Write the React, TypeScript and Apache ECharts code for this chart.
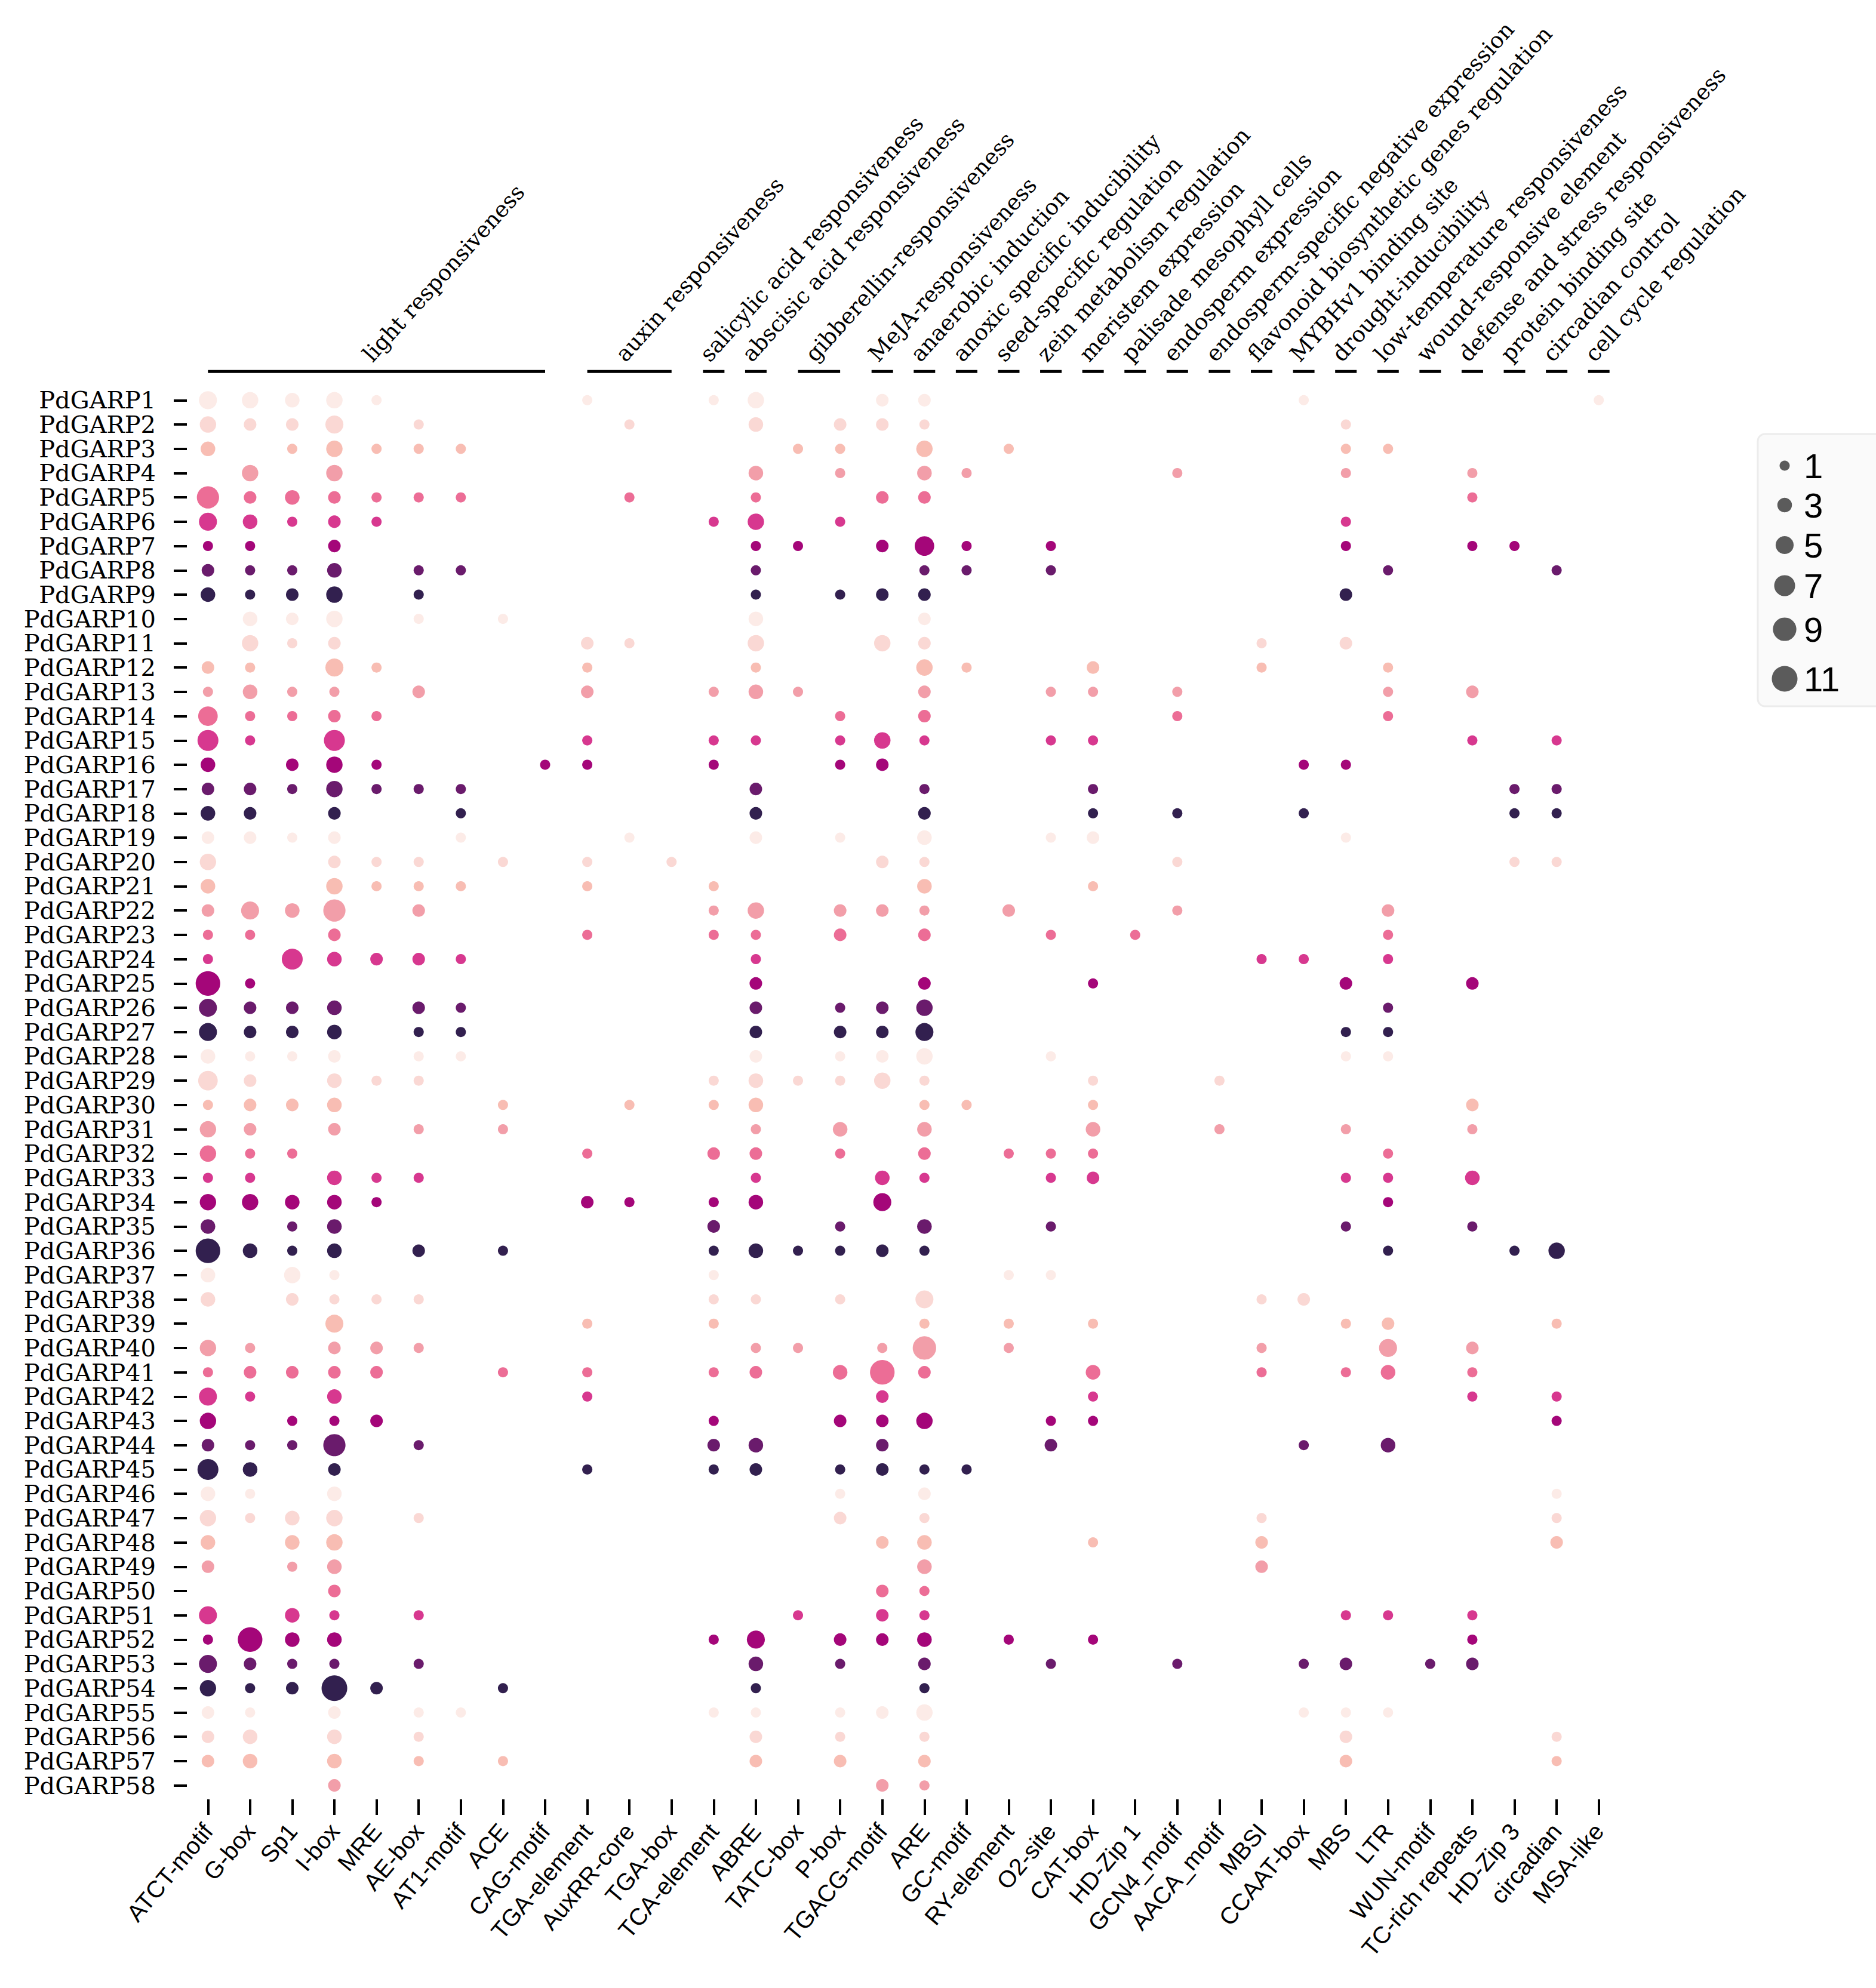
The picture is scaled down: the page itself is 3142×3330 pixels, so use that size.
import React, { useEffect, useRef } from "react";
import * as echarts from "echarts";

const genes = [
  "PdGARP1","PdGARP2","PdGARP3","PdGARP4","PdGARP5","PdGARP6","PdGARP7","PdGARP8","PdGARP9","PdGARP10",
  "PdGARP11","PdGARP12","PdGARP13","PdGARP14","PdGARP15","PdGARP16","PdGARP17","PdGARP18","PdGARP19","PdGARP20",
  "PdGARP21","PdGARP22","PdGARP23","PdGARP24","PdGARP25","PdGARP26","PdGARP27","PdGARP28","PdGARP29","PdGARP30",
  "PdGARP31","PdGARP32","PdGARP33","PdGARP34","PdGARP35","PdGARP36","PdGARP37","PdGARP38","PdGARP39","PdGARP40",
  "PdGARP41","PdGARP42","PdGARP43","PdGARP44","PdGARP45","PdGARP46","PdGARP47","PdGARP48","PdGARP49","PdGARP50",
  "PdGARP51","PdGARP52","PdGARP53","PdGARP54","PdGARP55","PdGARP56","PdGARP57","PdGARP58",
];

const motifs = [
  "ATCT-motif","G-box","Sp1","I-box","MRE","AE-box","AT1-motif","ACE","CAG-motif","TGA-element",
  "AuxRR-core","TGA-box","TCA-element","ABRE","TATC-box","P-box","TGACG-motif","ARE","GC-motif","RY-element",
  "O2-site","CAT-box","HD-Zip 1","GCN4_motif","AACA_motif","MBSI","CCAAT-box","MBS","LTR","WUN-motif",
  "TC-rich repeats","HD-Zip 3","circadian","MSA-like",
];

const groupLabels = [
  "light responsiveness","auxin responsiveness","salicylic acid responsiveness","abscisic acid responsiveness",
  "gibberellin-responsiveness","MeJA-responsiveness","anaerobic induction","anoxic specific inducibility",
  "seed-specific regulation","zein metabolism regulation","meristem expression","palisade mesophyll cells",
  "endosperm expression","endosperm-specific negative expression","flavonoid biosynthetic genes regulation",
  "MYBHv1 binding site","drought-inducibility","low-temperature responsiveness","wound-responsive element",
  "defense and stress responsiveness","protein binding site","circadian control","cell cycle regulation",
];
const groupStart = [0,9,12,13,14,16,17,18,19,20,21,22,23,24,25,26,27,28,29,30,31,32,33];
const groupEnd =   [8,11,12,13,15,16,17,18,19,20,21,22,23,24,25,26,27,28,29,30,31,32,33];

// counts per gene (rows) for each motif (columns, same order as motifs); 0 = absent
const rowCounts = [
  [5,4,3,4,1,0,0,0,0,1,0,0,1,4,0,0,2,2,0,0,0,0,0,0,0,0,1,0,0,0,0,0,0,1],
  [4,2,2,5,0,1,0,0,0,0,1,0,0,3,0,2,2,1,0,0,0,0,0,0,0,0,0,1,0,0,0,0,0,0],
  [3,0,1,4,1,1,1,0,0,0,0,0,0,0,1,1,0,4,0,1,0,0,0,0,0,0,0,1,1,0,0,0,0,0],
  [0,4,0,4,0,0,0,0,0,0,0,0,0,3,0,1,0,3,1,0,0,0,0,1,0,0,0,1,0,0,1,0,0,0],
  [8,2,3,2,1,1,1,0,0,0,1,0,0,1,0,0,2,2,0,0,0,0,0,0,0,0,0,0,0,0,1,0,0,0],
  [5,3,1,2,1,0,0,0,0,0,0,0,1,4,0,1,0,0,0,0,0,0,0,0,0,0,0,1,0,0,0,0,0,0],
  [1,1,0,2,0,0,0,0,0,0,0,0,0,1,1,0,2,6,1,0,1,0,0,0,0,0,0,1,0,0,1,1,0,0],
  [2,1,1,3,0,1,1,0,0,0,0,0,0,1,0,0,0,1,1,0,1,0,0,0,0,0,0,0,1,0,0,0,1,0],
  [3,1,2,4,0,1,0,0,0,0,0,0,0,1,0,1,2,2,0,0,0,0,0,0,0,0,0,2,0,0,0,0,0,0],
  [0,3,2,4,0,1,0,1,0,0,0,0,0,3,0,0,0,2,0,0,0,0,0,0,0,0,0,0,0,0,0,0,0,0],
  [0,4,1,2,0,0,0,0,0,2,1,0,0,4,0,0,4,2,0,0,0,0,0,0,0,1,0,2,0,0,0,0,0,0],
  [2,1,0,5,1,0,0,0,0,1,0,0,0,1,0,0,0,4,1,0,0,2,0,0,0,1,0,0,1,0,0,0,0,0],
  [1,3,1,1,0,2,0,0,0,2,0,0,1,3,1,0,0,2,0,0,1,1,0,1,0,0,0,0,1,0,2,0,0,0],
  [6,1,1,2,1,0,0,0,0,0,0,0,0,0,0,1,0,2,0,0,0,0,0,1,0,0,0,0,1,0,0,0,0,0],
  [7,1,0,7,0,0,0,0,0,1,0,0,1,1,0,1,4,1,0,0,1,1,0,0,0,0,0,0,0,0,1,0,1,0],
  [3,0,2,4,1,0,0,0,1,1,0,0,1,0,0,1,2,0,0,0,0,0,0,0,0,0,1,1,0,0,0,0,0,0],
  [2,2,1,4,1,1,1,0,0,0,0,0,0,2,0,0,0,1,0,0,0,1,0,0,0,0,0,0,0,0,0,1,1,0],
  [3,2,0,2,0,0,1,0,0,0,0,0,0,2,0,0,0,2,0,0,0,1,0,1,0,0,1,0,0,0,0,1,1,0],
  [2,2,1,2,0,0,1,0,0,0,1,0,0,2,0,1,0,3,0,0,1,2,0,0,0,0,0,1,0,0,0,0,0,0],
  [4,0,0,2,1,1,0,1,0,1,0,1,0,0,0,0,2,1,0,0,0,0,0,1,0,0,0,0,0,0,0,1,1,0],
  [3,0,0,4,1,1,1,0,0,1,0,0,1,0,0,0,0,3,0,0,0,1,0,0,0,0,0,0,0,0,0,0,0,0],
  [2,5,3,8,0,2,0,0,0,0,0,0,1,4,0,2,2,1,0,2,0,0,0,1,0,0,0,0,2,0,0,0,0,0],
  [1,1,0,2,0,0,0,0,0,1,0,0,1,1,0,2,0,2,0,0,1,0,1,0,0,0,0,0,1,0,0,0,0,0],
  [1,0,7,3,2,2,1,0,0,0,0,0,0,1,0,0,0,0,0,0,0,0,0,0,0,1,1,0,1,0,0,0,0,0],
  [10,1,0,0,0,0,0,0,0,0,0,0,0,2,0,0,0,2,0,0,0,1,0,0,0,0,0,2,0,0,2,0,0,0],
  [5,2,2,3,0,2,1,0,0,0,0,0,0,2,0,1,2,4,0,0,0,0,0,0,0,0,0,0,1,0,0,0,0,0],
  [5,2,2,3,0,1,1,0,0,0,0,0,0,2,0,2,2,5,0,0,0,0,0,0,0,0,0,1,1,0,0,0,0,0],
  [3,1,1,2,0,1,1,0,0,0,0,0,0,2,0,1,2,4,0,0,1,0,0,0,0,0,0,1,1,0,0,0,0,0],
  [6,2,0,3,1,1,0,0,0,0,0,0,1,3,1,1,4,1,0,0,0,1,0,0,1,0,0,0,0,0,0,0,0,0],
  [1,2,2,3,0,0,0,1,0,0,1,0,1,3,0,0,0,1,1,0,0,1,0,0,0,0,0,0,0,0,2,0,0,0],
  [4,2,0,2,0,1,0,1,0,0,0,0,0,1,0,3,0,3,0,0,0,3,0,0,1,0,0,1,0,0,1,0,0,0],
  [4,1,1,0,0,0,0,0,0,1,0,0,2,2,0,1,0,2,0,1,1,1,0,0,0,0,0,0,1,0,0,0,0,0],
  [1,1,0,3,1,1,0,0,0,0,0,0,0,1,0,0,3,1,0,0,1,2,0,0,0,0,0,1,1,0,3,0,0,0],
  [4,4,3,3,1,0,0,0,0,2,1,0,1,3,0,0,5,0,0,0,0,0,0,0,0,0,0,0,1,0,0,0,0,0],
  [3,0,1,3,0,0,0,0,0,0,0,0,2,0,0,1,0,3,0,0,1,0,0,0,0,0,0,1,0,0,1,0,0,0],
  [10,3,1,3,0,2,0,1,0,0,0,0,1,3,1,1,2,1,0,0,0,0,0,0,0,0,0,0,1,0,0,1,4,0],
  [3,0,4,1,0,0,0,0,0,0,0,0,1,0,0,0,0,0,0,1,1,0,0,0,0,0,0,0,0,0,0,0,0,0],
  [3,0,2,1,1,1,0,0,0,0,0,0,1,1,0,1,0,5,0,0,0,0,0,0,0,1,2,0,0,0,0,0,0,0],
  [0,0,0,5,0,0,0,0,0,1,0,0,1,0,0,0,0,1,0,1,0,1,0,0,0,0,0,1,2,0,0,0,1,0],
  [4,1,0,2,2,1,0,0,0,0,0,0,0,1,1,0,1,9,0,1,0,0,0,0,0,1,0,0,5,0,2,0,0,0],
  [1,2,2,2,2,0,0,1,0,1,0,0,1,2,0,3,10,2,0,0,0,3,0,0,0,1,0,1,3,0,1,0,0,0],
  [5,1,0,3,0,0,0,0,0,1,0,0,0,0,0,0,2,0,0,0,0,1,0,0,0,0,0,0,0,0,1,0,1,0],
  [4,0,1,1,2,0,0,0,0,0,0,0,1,0,0,2,2,4,0,0,1,1,0,0,0,0,0,0,0,0,0,0,1,0],
  [2,1,1,8,0,1,0,0,0,0,0,0,2,3,0,0,2,0,0,0,2,0,0,0,0,0,1,0,3,0,0,0,0,0],
  [7,3,0,2,0,0,0,0,0,1,0,0,1,2,0,1,2,1,1,0,0,0,0,0,0,0,0,0,0,0,0,0,0,0],
  [3,1,0,3,0,0,0,0,0,0,0,0,0,0,0,1,0,2,0,0,0,0,0,0,0,0,0,0,0,0,0,0,1,0],
  [4,1,3,4,0,1,0,0,0,0,0,0,0,0,0,2,0,1,0,0,0,0,0,0,0,1,0,0,0,0,0,0,1,0],
  [3,0,3,4,0,0,0,0,0,0,0,0,0,0,0,0,2,3,0,0,0,1,0,0,0,2,0,0,0,0,0,0,2,0],
  [2,0,1,3,0,0,0,0,0,0,0,0,0,0,0,0,0,3,0,0,0,0,0,0,0,2,0,0,0,0,0,0,0,0],
  [0,0,0,2,0,0,0,0,0,0,0,0,0,0,0,0,2,1,0,0,0,0,0,0,0,0,0,0,0,0,0,0,0,0],
  [5,0,3,1,0,1,0,0,0,0,0,0,0,0,1,0,2,1,0,0,0,0,0,0,0,0,0,1,1,0,1,0,0,0],
  [1,10,3,3,0,0,0,0,0,0,0,0,1,5,0,2,2,3,0,1,0,1,0,0,0,0,0,0,0,0,1,0,0,0],
  [5,2,1,1,0,1,0,0,0,0,0,0,0,3,0,1,0,2,0,0,1,0,0,1,0,0,1,2,0,1,2,0,0,0],
  [4,1,2,11,2,0,0,1,0,0,0,0,0,1,0,0,0,1,0,0,0,0,0,0,0,0,0,0,0,0,0,0,0,0],
  [2,1,0,2,0,1,1,0,0,0,0,0,1,1,0,1,2,4,0,0,0,0,0,0,0,0,1,1,1,0,0,0,0,0],
  [2,3,0,3,0,1,0,0,0,0,0,0,0,2,0,1,0,1,0,0,0,0,0,0,0,0,0,2,0,0,0,0,1,0],
  [2,3,0,3,0,1,0,1,0,0,0,0,0,2,0,2,0,2,0,0,0,0,0,0,0,0,0,2,0,0,0,0,1,0],
  [0,0,0,2,0,0,0,0,0,0,0,0,0,0,0,0,2,1,0,0,0,0,0,0,0,0,0,0,0,0,0,0,0,0],
];

// colour cycles through 9 shades by gene order
const rowPalette = ["#fcebe7","#fad8d4","#f8bdb3","#f29ea9","#ec6d96","#d7388f","#a40679","#6a1b6c","#32204f"];

const legendValues = [1, 3, 5, 7, 9, 11];

const D_MIN = 17;
const D_MAX = 43;
const V_MIN = 1;
const V_MAX = 11;
function bubbleSize(v: number): number {
  const a = D_MIN * D_MIN + ((D_MAX * D_MAX - D_MIN * D_MIN) * (v - V_MIN)) / (V_MAX - V_MIN);
  return Math.sqrt(a);
}

export default function App() {
  const ref = useRef<HTMLDivElement>(null);

  useEffect(() => {
    document.body.style.margin = "0";
    if (!ref.current) return;
    const chart = echarts.init(ref.current, null, { renderer: "svg" });

    const data: any[] = [];
    rowCounts.forEach((row, r) => {
      row.forEach((v, c) => {
        if (v > 0) {
          data.push({ value: [c, r, v], itemStyle: { color: rowPalette[r % 9] } });
        }
      });
    });

    chart.setOption({
      animation: false,
      backgroundColor: "#ffffff",
      grid: { left: 313, top: 650, width: 2400, height: 2361, containLabel: false },
      xAxis: {
        type: "category",
        data: motifs,
        position: "bottom",
        offset: 3,
        axisLine: { show: false },
        axisTick: { show: true, alignWithLabel: true, length: 26, lineStyle: { color: "#000", width: 4 } },
        axisLabel: {
          rotate: 50,
          margin: 46,
          interval: 0,
          fontFamily: "Liberation Sans",
          fontSize: 40,
          color: "#000",
        },
        splitLine: { show: false },
      },
      yAxis: {
        type: "category",
        data: genes,
        inverse: true,
        axisLine: { show: false },
        axisTick: { show: true, alignWithLabel: true, length: 22, lineStyle: { color: "#000", width: 4 } },
        axisLabel: {
          margin: 52,
          interval: 0,
          fontFamily: "DejaVu Serif",
          fontSize: 40,
          color: "#000",
        },
        splitLine: { show: false },
      },
      series: [
        {
          type: "scatter",
          data,
          symbol: "circle",
          symbolSize: (val: number[]) => bubbleSize(val[2]),
          itemStyle: { opacity: 1 },
        },
      ],
    });

    // header annotations, positioned through the axis scales
    const yFirst = chart.convertToPixel({ yAxisIndex: 0 }, 0) as number;
    const lineY = yFirst - 48;
    const graphics: any[] = [];
    groupLabels.forEach((lab, i) => {
      const xs = chart.convertToPixel({ xAxisIndex: 0 }, groupStart[i]) as number;
      const xe = chart.convertToPixel({ xAxisIndex: 0 }, groupEnd[i]) as number;
      let x1 = xs;
      let x2 = xe;
      if (groupStart[i] === groupEnd[i]) {
        x1 = xs - 18;
        x2 = xs + 18;
      }
      graphics.push({
        type: "line",
        shape: { x1, y1: lineY, x2, y2: lineY },
        style: { stroke: "#000", lineWidth: 5 },
      });
      graphics.push({
        type: "text",
        x: (xs + xe) / 2 - 2,
        y: lineY - 10,
        rotation: (48 * Math.PI) / 180,
        style: {
          text: lab,
          fontFamily: "DejaVu Serif",
          fontSize: 37,
          fill: "#000",
          align: "left",
          verticalAlign: "bottom",
        },
      });
    });

    // size legend
    const legX = 2989;
    let legY = 780;
    graphics.push({
      type: "rect",
      shape: { x: 2944, y: 727, width: 240, height: 456, r: 12 },
      style: { fill: "#fafafa", stroke: "#ececec", lineWidth: 3 },
    });
    const legendGaps = [66, 67, 68, 73, 83];
    legendValues.forEach((v, i) => {
      const d = bubbleSize(v);
      graphics.push({
        type: "circle",
        shape: { cx: legX, cy: legY, r: d / 2 },
        style: { fill: "#5b5b5b" },
      });
      graphics.push({
        type: "text",
        x: 3021,
        y: legY,
        style: {
          text: String(v),
          fontFamily: "Liberation Sans",
          fontSize: 58,
          fill: "#000",
          align: "left",
          verticalAlign: "middle",
        },
      });
      if (i < legendGaps.length) legY += legendGaps[i];
    });

    chart.setOption({ graphic: graphics });

    return () => {
      chart.dispose();
    };
  }, []);

  return <div ref={ref} style={{ width: 3142, height: 3330 }} />;
}
